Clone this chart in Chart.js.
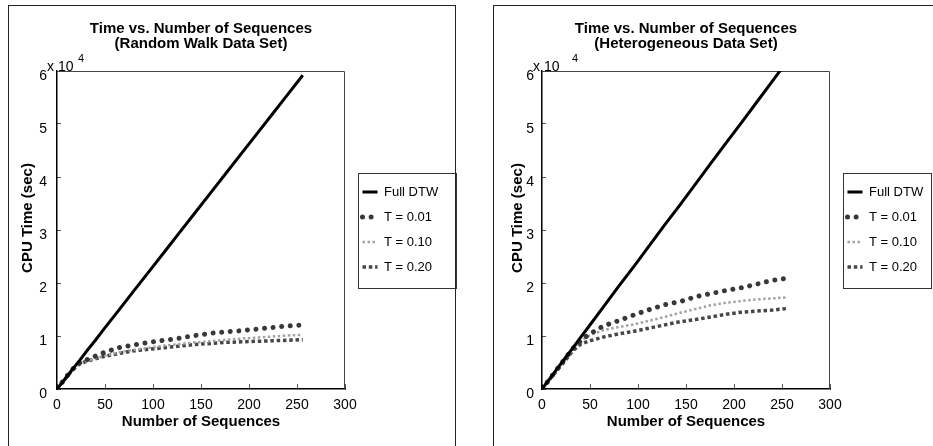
<!DOCTYPE html>
<html lang="en">
  <head>
    <meta charset="UTF-8" />
    <title>Time vs. Number of Sequences</title>
    <script src="https://cdn.jsdelivr.net/npm/chart.js"></script>
    <style>
      body { margin: 0; background: #fff; }
      .page { position: relative; width: 933px; height: 446px; overflow: hidden; }
      .frame { position: absolute; top: 5px; height: 480px; border: 1px solid #222; box-sizing: border-box; }
      canvas { position: absolute; top: 0; }
    </style>
  </head>
  <body>
    <div class="page">
      <div class="frame" style="left: 8px; width: 448px"></div>
      <div class="frame" style="left: 493px; width: 500px"></div>
      <canvas id="rwChart" width="466" height="446" style="left: 0"></canvas>
      <canvas id="hetChart" width="448" height="446" style="left: 485px"></canvas>
    </div>

    <script>
      // number of sequences (x)
      const seqCounts = [0, 8, 16, 24, 32, 40, 48, 64, 80, 96, 112, 128, 144, 160, 176, 192, 208, 224, 240, 256];
      const seriesLabels = ["Full DTW", "T = 0.01", "T = 0.10", "T = 0.20"];
      const xTickValues = [0, 50, 100, 150, 200, 250, 300];
      const yTickValues = [0, 1, 2, 3, 4, 5, 6]; // x 10^4 sec

      // CPU time, in units of 10^4 sec - Random Walk data set
      const rwFull = [0, 0.18, 0.37, 0.55, 0.74, 0.92, 1.11, 1.48, 1.85, 2.22, 2.59, 2.96, 3.33, 3.7, 4.07, 4.44, 4.81, 5.18, 5.55, 5.92];
      const rwT01 = [0, 0.19, 0.37, 0.5, 0.56, 0.62, 0.68, 0.78, 0.83, 0.88, 0.92, 0.96, 1.01, 1.05, 1.08, 1.1, 1.13, 1.16, 1.19, 1.21];
      const rwT10 = [0, 0.19, 0.37, 0.49, 0.53, 0.58, 0.62, 0.69, 0.74, 0.78, 0.82, 0.85, 0.88, 0.9, 0.93, 0.95, 0.97, 0.99, 1.01, 1.02];
      const rwT20 = [0, 0.18, 0.36, 0.48, 0.53, 0.57, 0.61, 0.67, 0.72, 0.75, 0.78, 0.81, 0.84, 0.86, 0.88, 0.89, 0.9, 0.91, 0.92, 0.93];

      // CPU time, in units of 10^4 sec - Heterogeneous data set
      const hetFull = [0, 0.19, 0.39, 0.58, 0.77, 0.97, 1.16, 1.55, 1.94, 2.32, 2.71, 3.1, 3.48, 3.87, 4.26, 4.65, 5.03, 5.42, 5.81, 6.2];
      const hetT01 = [0, 0.19, 0.38, 0.57, 0.76, 0.9, 1.02, 1.19, 1.29, 1.4, 1.5, 1.59, 1.65, 1.74, 1.8, 1.86, 1.91, 1.98, 2.05, 2.09];
      const hetT10 = [0, 0.19, 0.37, 0.55, 0.74, 0.9, 1.0, 1.11, 1.17, 1.22, 1.29, 1.36, 1.44, 1.51, 1.58, 1.63, 1.66, 1.69, 1.71, 1.73];
      const hetT20 = [0, 0.18, 0.36, 0.53, 0.72, 0.84, 0.9, 0.98, 1.04, 1.09, 1.15, 1.21, 1.27, 1.31, 1.36, 1.41, 1.45, 1.47, 1.49, 1.52];

      const lineStyles = [
        { borderColor: "#000", borderWidth: 3 },
        { borderColor: "#383838", borderWidth: 5, borderDash: [0.01, 8.6], borderCapStyle: "round" },
        { borderColor: "#a3a3a3", borderWidth: 2.5, borderDash: [2.5, 2.5] },
        { borderColor: "#464646", borderWidth: 3.5, borderDash: [3.5, 2.8] },
      ];

      Chart.defaults.font.family = '"Liberation Sans", Arial, sans-serif';
      Chart.defaults.color = "#000";

      // legend placement, axes frame, legend box, exponent and y title
      const panelDecor = {
        id: "panelDecor",
        afterLayout(chart) {
          const lg = chart.legend;
          lg.left = 350.5;
          lg.top = 173.5;
          lg.right = lg.left + 130;
          lg.bottom = lg.top + 130;
        },
        beforeDatasetsDraw(chart) {
          const { ctx, chartArea: a } = chart;
          ctx.save();
          ctx.strokeStyle = "#444";
          ctx.lineWidth = 1;
          ctx.beginPath();
          ctx.moveTo(a.left, a.top + 0.5);
          ctx.lineTo(a.right - 0.5, a.top + 0.5);
          ctx.lineTo(a.right - 0.5, a.bottom);
          ctx.stroke();
          ctx.restore();
        },
        afterDraw(chart, args, opts) {
          const { ctx, chartArea: a } = chart;
          ctx.save();
          // legend frame
          ctx.strokeStyle = "#333";
          ctx.lineWidth = 1;
          ctx.strokeRect(358.5, 173.5, Math.min(98, chart.width - 360), 115);
          // exponent label
          ctx.fillStyle = "#000";
          ctx.textBaseline = "alphabetic";
          ctx.textAlign = "left";
          ctx.font = '14px "Liberation Sans", Arial, sans-serif';
          ctx.fillText("x 10", opts.expX, 71);
          ctx.font = '11px "Liberation Sans", Arial, sans-serif';
          ctx.fillText("4", opts.supX, 62);
          // y axis title
          ctx.translate(opts.yTitleX, 218);
          ctx.rotate(-Math.PI / 2);
          ctx.textAlign = "center";
          ctx.textBaseline = "middle";
          ctx.font = 'bold 15px "Liberation Sans", Arial, sans-serif';
          ctx.fillText("CPU Time (sec)", 0, 0);
          ctx.restore();
        },
      };

      function makeChart(id, subtitle, series, decor) {
        const ctx = document.getElementById(id);
        const datasets = series.map((values, i) => ({
          label: seriesLabels[i],
          data: seqCounts.map((n, j) => ({ x: n, y: values[j] })),
          pointRadius: 0,
          tension: 0,
          fill: false,
          ...lineStyles[i],
        }));

        return new Chart(ctx, {
          type: "line",
          data: { datasets },
          plugins: [panelDecor],
          options: {
            responsive: false,
            animation: false,
            devicePixelRatio: 1,
            layout: { autoPadding: false, padding: { left: 0, top: 0, bottom: 0, right: ctx.width - 345 } },
            plugins: {
              title: {
                display: true,
                fullSize: false,
                text: ["Time vs. Number of Sequences", subtitle],
                font: { size: 15, weight: "bold", lineHeight: 1 },
                color: "#000",
                padding: { top: 21, bottom: 20 },
              },
              legend: {
                position: "chartArea",
                align: "start",
                labels: {
                  usePointStyle: true,
                  pointStyleWidth: 15,
                  padding: 12,
                  font: { size: 13 },
                  color: "#000",
                  generateLabels: (chart) =>
                    chart.data.datasets.map((ds, i) => ({
                      text: ds.label,
                      datasetIndex: i,
                      fontColor: "#000",
                      strokeStyle: ds.borderColor,
                      fillStyle: ds.borderColor,
                      lineWidth: ds.borderWidth,
                      lineDash: ds.borderDash || [],
                      lineCap: ds.borderCapStyle || "butt",
                      pointStyle: "line",
                      hidden: false,
                    })),
                },
              },
              tooltip: { enabled: false },
              panelDecor: decor,
            },
            scales: {
              x: {
                type: "linear",
                min: 0,
                max: 300,
                afterBuildTicks: (s) => { s.ticks = xTickValues.map((v) => ({ value: v })); },
                afterFit: (s) => { s.height = 57; },
                grid: { drawOnChartArea: false, drawTicks: true, tickLength: -5, color: "#555" },
                border: { color: "#000", width: 1.5 },
                ticks: { font: { size: 14 }, color: "#000", padding: 12.6, maxRotation: 0 },
                title: {
                  display: true,
                  text: "Number of Sequences",
                  font: { size: 15, weight: "bold" },
                  color: "#000",
                  padding: { top: 0, bottom: 15 },
                },
              },
              y: {
                type: "linear",
                min: 0,
                max: 6,
                afterBuildTicks: (s) => { s.ticks = yTickValues.map((v) => ({ value: v })); },
                afterFit: (s) => { s.width = 57; },
                grid: { drawOnChartArea: false, drawTicks: true, tickLength: -4, color: "#555" },
                border: { color: "#000", width: 1.5 },
                ticks: { font: { size: 14 }, color: "#000", padding: decor.tickPad, labelOffset: 5 },
              },
            },
          },
        });
      }

      makeChart("rwChart", "(Random Walk Data Set)", [rwFull, rwT01, rwT10, rwT20],
        { expX: 47, supX: 78, yTitleX: 28, tickPad: 14 });
      makeChart("hetChart", "(Heterogeneous Data Set)", [hetFull, hetT01, hetT10, hetT20],
        { expX: 48, supX: 87, yTitleX: 33, tickPad: 12 });
    </script>
  </body>
</html>
